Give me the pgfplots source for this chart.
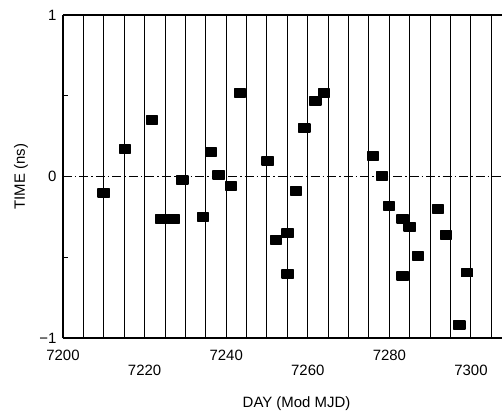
\documentclass[border=0pt]{standalone}
\usepackage{fontspec}
\setmainfont{Liberation Sans}
\usepackage{pgfplots}
\pgfplotsset{compat=1.18}
\begin{document}
\begin{tikzpicture}
\begin{axis}[
  scale only axis, width=439bp, height=323bp,
  at={(0,0)}, anchor=south west,
  xmin=7200, xmax=7307.6, ymin=-1, ymax=1,
  axis x line*=box, axis y line*=left,
  axis line style={line width=1.5pt, black},
  font=\fontsize{15}{17}\selectfont,
  xtick={7200,7240,7280}, xticklabels={7200,7240,7280},
  extra x ticks={7220,7260,7300}, extra x tick labels={7220,7260,7300},
  extra x tick style={xticklabel style={yshift=-15bp}},
  xticklabel style={anchor=center, yshift=-17bp},
  minor xtick={7205,7210,...,7305},
  xminorgrids=true,
  minor grid style={black, line width=1pt},
  ytick={-1,0,1}, yticklabels={−1,0,1},
  minor ytick={-0.5,0.5},
  yticklabel style={xshift=-3bp},
  tick align=inside,
  major tick length=6bp, minor tick length=5bp,
  tick style={black, line width=1pt},
  xlabel={DAY (Mod MJD)},
  ylabel={TIME (ns)},
  every axis x label/.style={at={(axis description cs:0.532,-0.204)}, anchor=center},
  every axis y label/.style={at={(axis description cs:-0.0957,0.5)}, anchor=center, rotate=90},
  clip=true,
]
\addplot[black, line width=0.8pt, dash pattern=on 9bp off 3bp on 1.5bp off 3bp] coordinates {(7200,0) (7307.6,0)};
\addplot[only marks, mark=square*, mark size=4pt,
  mark options={xscale=1.45, fill=black, draw=black, line width=1.2pt, line join=round}]
coordinates {
(7210.0,-0.102)
(7215.2,0.170)
(7221.8,0.350)
(7224.1,-0.263)
(7227.1,-0.263)
(7229.2,-0.022)
(7234.3,-0.251)
(7236.3,0.152)
(7238.2,0.009)
(7241.2,-0.059)
(7243.4,0.517)
(7250.2,0.096)
(7252.2,-0.393)
(7255.1,-0.350)
(7255.1,-0.604)
(7257.1,-0.090)
(7259.1,0.300)
(7261.8,0.467)
(7264.0,0.517)
(7276.0,0.127)
(7278.2,0.003)
(7279.9,-0.183)
(7283.3,-0.263)
(7285.0,-0.313)
(7287.0,-0.492)
(7283.3,-0.616)
(7291.9,-0.201)
(7293.9,-0.362)
(7299.0,-0.597)
(7297.1,-0.919)
};
\end{axis}
\pgfresetboundingbox
\path[use as bounding box] (-63bp,-73bp) rectangle (439bp,338bp);
\end{tikzpicture}
\end{document}
